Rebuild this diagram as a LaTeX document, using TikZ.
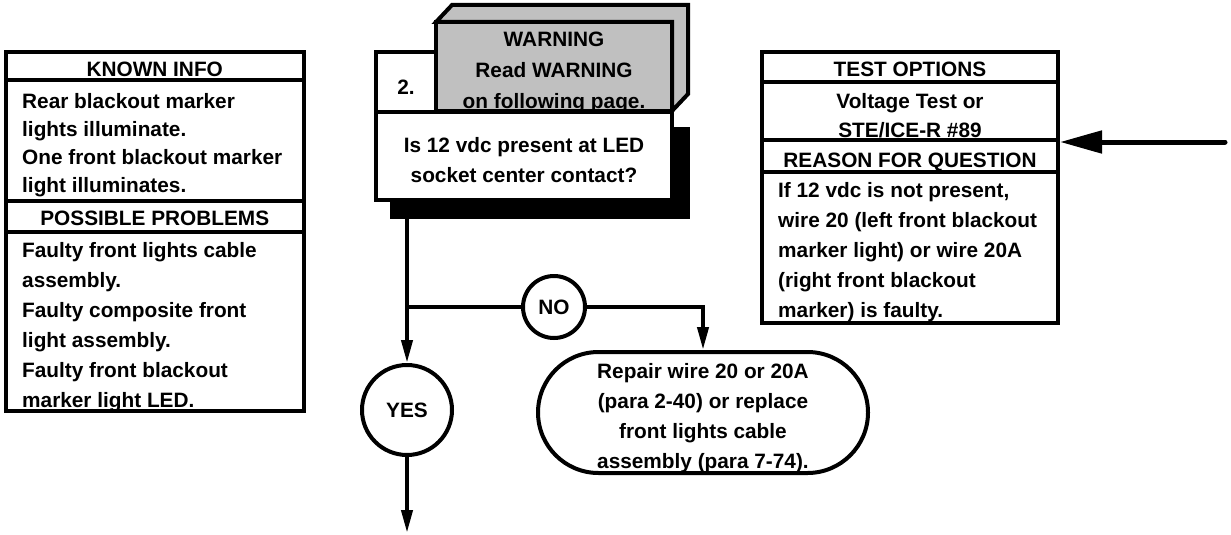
\documentclass[tikz,border=0pt]{standalone}
\usepackage{fontspec}
\setmainfont{Liberation Sans}
\usetikzlibrary{arrows.meta,shapes.misc}
\definecolor{grayface}{RGB}{192,192,192}
\begin{document}
\begin{tikzpicture}[x=1pt,y=-1pt,
  bx/.style={draw=black, line width=4pt, inner sep=0pt, rectangle, fill=white},
  tx/.style={inner sep=0pt, font=\bfseries\fontsize{20.8}{30}\selectfont},
  ln/.style={line width=4pt},
  arr/.style={ln, -{Triangle[length=23pt,width=11pt]}},
  bigarr/.style={line width=5pt, line cap=round, -{Triangle[length=42pt,width=22pt]}},
  circ/.style={draw=black, line width=4pt, circle, inner sep=0pt, fill=white, tx},
]
\useasboundingbox (0,0) rectangle (1231,535);

% ---------- left box ----------
\node[bx, minimum width=298.5pt, minimum height=28pt]  (kih) at (154.75,66) {};
\node[bx, minimum width=298.5pt, minimum height=121pt] (kib) at (154.75,140.5) {};
\node[bx, minimum width=298.5pt, minimum height=31pt]  (pph) at (154.75,216.5) {};
\node[bx, minimum width=298.5pt, minimum height=179pt] (ppb) at (154.75,321.5) {};
\node[tx, anchor=base] (kiht) at (154.75,77) {KNOWN INFO};
\node[tx, anchor=base west] (kibt) at (22,108) {\parbox[t]{290pt}{\fontsize{20.8}{28}\selectfont\raggedright
  Rear blackout marker\\lights illuminate.\\One front blackout marker\\light illuminates.}};
\node[tx, anchor=base] (ppht) at (154.75,225) {POSSIBLE PROBLEMS};
\node[tx, anchor=base west] (ppbt) at (22,257) {\parbox[t]{290pt}{\fontsize{20.8}{30}\selectfont\raggedright
  Faulty front lights cable\\assembly.\\Faulty composite front\\light assembly.\\Faulty front blackout\\marker light LED.}};

% ---------- right box ----------
\node[bx, minimum width=296pt, minimum height=29.5pt] (toh) at (910,66.75) {};
\node[bx, minimum width=296pt, minimum height=58.5pt] (tob) at (910,110.75) {};
\node[bx, minimum width=296pt, minimum height=32pt]   (rqh) at (910,156) {};
\node[bx, minimum width=296pt, minimum height=151pt]  (rqb) at (910,247.5) {};
\node[tx, anchor=base] (toht) at (910,77) {TEST OPTIONS};
\node[tx, anchor=base] (tobt) at (910,108) {\parbox[t]{290pt}{\fontsize{20.8}{29}\selectfont\centering
  Voltage Test or\\STE/ICE-R \#89}};
\node[tx, anchor=base] (rqht) at (910,167) {REASON FOR QUESTION};
\node[tx, anchor=base west] (rqbt) at (778,197) {\parbox[t]{280pt}{\fontsize{20.8}{30}\selectfont\raggedright
  If 12 vdc is not present,\\wire 20 (left front blackout\\marker light) or wire 20A\\(right front blackout\\marker) is faulty.}};

% ---------- question block ----------
\node[bx, fill=black, minimum width=296pt, minimum height=88pt] (qsh) at (540,173) {};
\node[bx, minimum width=296pt, minimum height=88pt] (q) at (524,156) {};
\node[tx, anchor=base] (qt) at (524,152) {\parbox[t]{290pt}{\fontsize{20.8}{30}\selectfont\centering
  Is 12 vdc present at LED\\socket center contact?}};
\node[bx, minimum width=60pt, minimum height=60pt] (st) at (406,82) {};
\node[tx, anchor=base] (stt) at (406,95) {2.};
\node[bx, fill=grayface, minimum width=236pt, minimum height=89pt, outer sep=0pt] (wf) at (554,66.5) {};
\draw[ln, fill=grayface, line join=miter] (wf.north west) -- ++(16,-17) -- ++(236,0) -- ++(0,89)
  -- (wf.south east) -- (wf.north east) -- cycle;
\node[tx, anchor=base] (wft) at (554,47) {\parbox[t]{300pt}{\fontsize{20.8}{31}\selectfont\centering
  WARNING\\Read WARNING\\on following page.}};

% ---------- decisions ----------
\coordinate (j) at (407,307);
\node[circ, minimum size=90pt] (yes) at (407,410) {\raisebox{-3pt}{YES}};
\node[circ, minimum size=62pt] (no) at (554,307) {\raisebox{-2pt}{NO}};
\node[draw=black, line width=4pt, rounded rectangle, inner sep=0pt, fill=white,
      minimum width=330pt, minimum height=121pt] (term) at (703,412.5) {};
\node[tx, anchor=base] (termt) at (703,378) {\parbox[t]{330pt}{\fontsize{20.8}{30}\selectfont\centering
  Repair wire 20 or 20A\\(para 2-40) or replace\\front lights cable\\assembly (para 7-74).}};
\coordinate (yend) at (407,533);
\coordinate (rs) at (1225,142);

% ---------- connectors ----------
\draw[ln] (qsh.south -| j) -- (j);
\draw[arr] (j) -- (yes.north);
\draw[ln] (j) -- (no.west);
\draw[arr] (no.east) -| (term.north);
\draw[arr] (yes.south) -- (yend);
\draw[bigarr] (rs) -- (rs -| tob.east);
\end{tikzpicture}
\end{document}
